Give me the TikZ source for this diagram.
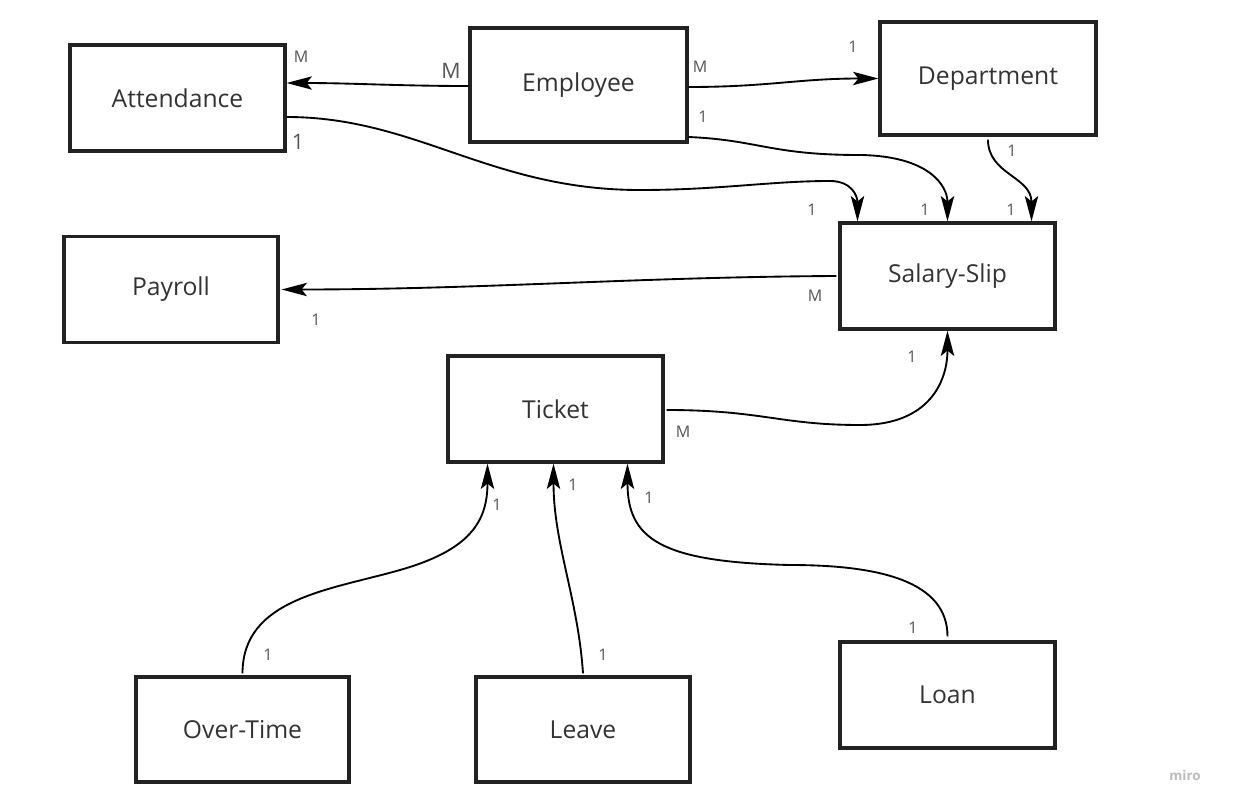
\documentclass[tikz,border=0pt]{standalone}
\usepackage{fontspec}
\setmainfont{Open Sans}
\usetikzlibrary{arrows.meta,calc}
\definecolor{boxline}{HTML}{222222}
\definecolor{txt}{HTML}{333333}
\definecolor{lbl}{HTML}{555555}
\definecolor{wm}{HTML}{BBBBBB}
\begin{document}
\begin{tikzpicture}[x=0.75pt,y=-0.75pt,
 entity/.style={draw=boxline, line width=2.4pt, fill=white, minimum width=161.25pt, minimum height=79.5pt, inner sep=0pt, font=\fontsize{18.5}{22}\selectfont, text=txt},
 link/.style={line width=1.4pt, -{Stealth[length=19pt,width=10pt,inset=4pt]}},
 card/.style={font=\fontsize{12}{14}\selectfont, text=lbl, inner sep=0pt},
 cardbig/.style={font=\fontsize{16}{18}\selectfont, text=lbl, inner sep=0pt}]
\useasboundingbox (0,0) rectangle (1233,810);
\fill[white] (0,0) rectangle (1233,810);

% entities
\node[entity] (att) at (177.5,98) {Attendance};
\node[entity, minimum width=162.75pt, minimum height=85.5pt] (emp) at (578.5,85) {Employee};
\node[entity, minimum width=162pt, minimum height=84.75pt] (dep) at (988,78.5) {Department};
\node[entity] (sal) at (947.5,276) {Salary-Slip};
\node[entity, minimum width=160.5pt] (pay) at (171,289.5) {Payroll};
\node[entity] (tic) at (555.5,409) {Ticket};
\node[entity, minimum width=159.75pt, minimum height=78.75pt] (ot) at (242.5,729.5) {Over-Time};
\node[entity, minimum width=160.5pt, minimum height=78.75pt] (lv) at (583,729.5) {Leave};
\node[entity] (loan) at (947.5,695) {Loan};

% connectors
\draw[link] ($(emp.west)+(0,1)$) .. controls +(-70,0) and +(65,0) .. ($(att.east)+(0,-15)$);
\draw[link] ($(emp.east)+(0,2)$) .. controls +(80,0) and +(-80,0) .. (dep.west);
\draw[link] ($(att.east)+(0,19)$) .. controls +(130,0) and +(-150,0) .. (640,190)
   .. controls +(80,0) and +(-60,0) .. (830,181)
   .. controls +(22,0) and +(0,-25) .. ($(sal.north)+(-90,0)$);
\draw[link] ($(emp.east)+(0,52)$) .. controls +(70,3) and +(-90,0) .. (860,155)
   .. controls +(70,1) and +(0,-35) .. (sal.north);
\draw[link] ($(dep.south)+(0,3)$) .. controls +(0,35) and +(0,-45) .. ($(sal.north)+(84,0)$);
\draw[link] ($(sal.west)+(-2,0)$) .. controls +(-200,1) and +(200,0) .. ($(pay.east)+(2,0)$);
\draw[link] ($(tic.east)+(2,1)$) .. controls +(95,0) and +(-80,0) .. (860,425)
   .. controls +(70,0) and +(0,50) .. (sal.south);
\draw[link] ($(ot.north)+(0,-2)$) .. controls +(0,-75) and +(-70,20) .. (400,570)
   .. controls +(70,-20) and +(0,58) .. ($(tic.south)+(-68,0)$);
\draw[link] ($(lv.north)+(0,-2)$) .. controls +(-5,-75) and +(0,80) .. ($(tic.south)+(-2,0)$);
\draw[link] ($(loan.north)+(0,-4)$) .. controls +(0,-55) and +(90,0) .. (790,565)
   .. controls +(-130,-3) and +(0,75) .. ($(tic.south)+(72,0)$);

% cardinalities
\node[cardbig] (l1) at (451,71) {M};
\node[card] (l2) at (301,57) {M};
\node[cardbig] (l3) at (298,142) {1};
\node[card] (l4) at (700,67) {M};
\node[card] (l5) at (853,47) {1};
\node[card] (l6) at (703,117) {1};
\node[card] (l7) at (812,210) {1};
\node[card] (l8) at (925,210) {1};
\node[card] (l9) at (1011,210) {1};
\node[card] (l10) at (1012,151) {1};
\node[card] (l11) at (815,296) {M};
\node[card] (l12) at (316,320) {1};
\node[card] (l13) at (683,432) {M};
\node[card] (l14) at (912,357) {1};
\node[card] (l15) at (268,655) {1};
\node[card] (l16) at (497,505) {1};
\node[card] (l17) at (603,655) {1};
\node[card] (l18) at (573,485) {1};
\node[card] (l19) at (913,628) {1};
\node[card] (l20) at (649,498) {1};

\node[font=\bfseries\fontsize{10}{12}\selectfont, text=wm, inner sep=0pt] (miro) at (1185,775) {miro};
\end{tikzpicture}
\end{document}
